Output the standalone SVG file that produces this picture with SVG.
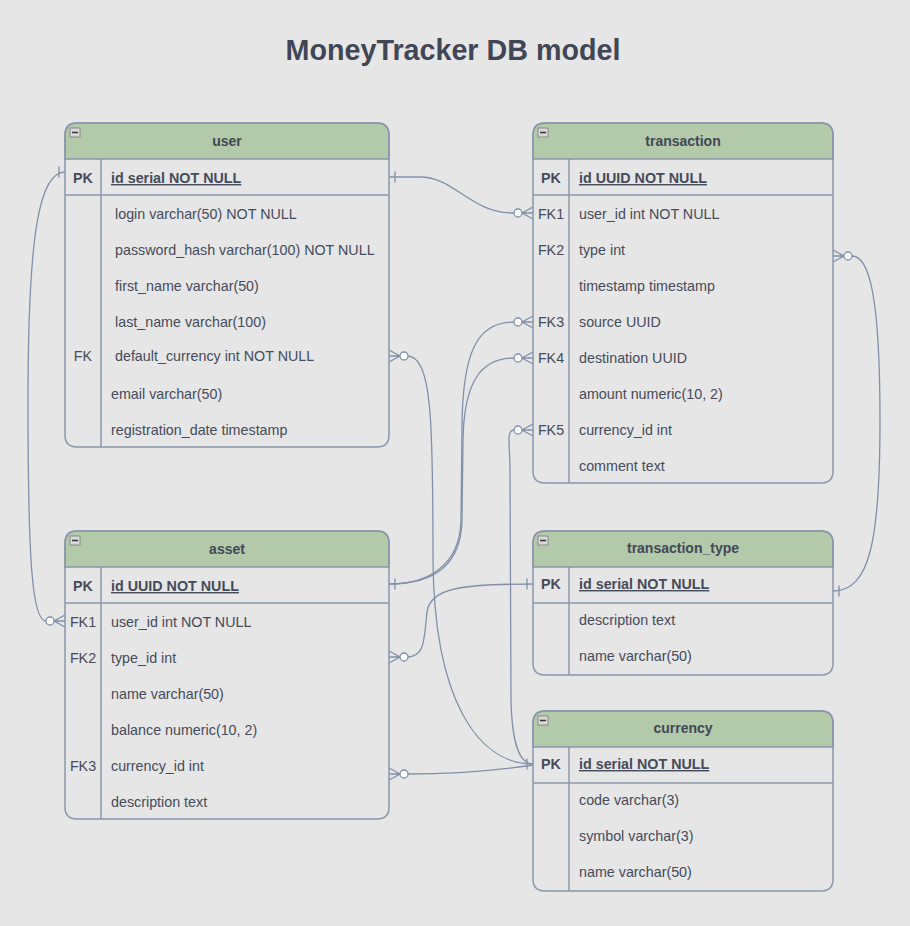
<svg xmlns="http://www.w3.org/2000/svg" width="910" height="926" viewBox="0 0 910 926">
<style>
.bg{fill:#e6e6e6}
.title{font-family:"Liberation Sans",Arial,sans-serif;font-size:28.7px;font-weight:bold;fill:#414656}
.tbl{fill:none;stroke:#8b97ab;stroke-width:1.5}
.hdr{fill:#b2c9aa;stroke:#8b97ab;stroke-width:1.5}
.ln{stroke:#8b97ab;stroke-width:1.5;fill:none}
.hname{font-family:"Liberation Sans",Arial,sans-serif;font-size:14px;font-weight:bold;fill:#424857;text-anchor:middle}
.key{font-family:"Liberation Sans",Arial,sans-serif;font-size:14.3px;fill:#454b5a;text-anchor:middle}
.pk{font-weight:bold}
.f{font-family:"Liberation Sans",Arial,sans-serif;font-size:14.3px;fill:#454b5a}
.fpk{font-weight:bold;text-decoration:underline}
.minus{fill:#d9d9d9;stroke:#8a8a8a;stroke-width:1}
.conn path,.conn line{fill:none;stroke:#8190a8;stroke-width:1.3}
.circ{fill:#ffffff;stroke:#8190a8;stroke-width:1.3}
</style>
<defs>
<g id="crow"><path d="M0,-6 L-11,0 L0,6 M0,0 L-11,0" fill="none" stroke="#8190a8" stroke-width="1.3"/><circle class="circ" cx="-15" cy="0" r="4"/></g>
<g id="bar"><line x1="-6" y1="-5.5" x2="-6" y2="5.5" stroke="#8190a8" stroke-width="1.3"/></g>
<g id="mbox"><rect class="minus" x="0" y="0" width="10" height="9"/><line x1="2" y1="4.5" x2="8" y2="4.5" stroke="#333" stroke-width="1.5"/></g>
</defs>
<rect class="bg" x="0" y="0" width="910" height="926"/>
<text class="title" x="453" y="60" text-anchor="middle">MoneyTracker DB model</text>

<g class="conn" id="connectors">
<path d="M389,177 L420,177 C455,177 470,213 514,213"/>
<path d="M407,356 C432,356 433,420 433,560 C434,700 478,764 533,764"/>
<path d="M514,430 C506,430 510,445 510,470 L511,700 C512,740 518,764 533,764"/>
<path d="M514,322 C478,322 462,350 462,430 L461,520 C460,568 425,584 389,584"/>
<path d="M514,358 C482,358 464,380 463,440 L462,520 C461,570 428,584 389,584"/>
<path d="M533,584 C462,584 430,588 427,612 C424,640 425,657 407,657"/>
<path d="M407,774 C460,774 500,770 533,765"/>
<path d="M65,172 C40,172 28,230 28,400 C28,560 32,621 46,621"/>
<path d="M852,256 C870,256 880,300 880,420 C880,540 870,591 833,591"/>
<use href="#crow" transform="translate(533,213)"/>
<use href="#crow" transform="translate(389,356) scale(-1,1)"/>
<use href="#crow" transform="translate(533,430)"/>
<use href="#crow" transform="translate(533,322)"/>
<use href="#crow" transform="translate(533,358)"/>
<use href="#crow" transform="translate(389,657) scale(-1,1)"/>
<use href="#crow" transform="translate(389,774) scale(-1,1)"/>
<use href="#crow" transform="translate(65,621)"/>
<use href="#crow" transform="translate(833,256) scale(-1,1)"/>
<use href="#bar" transform="translate(389,177) scale(-1,1)"/>
<use href="#bar" transform="translate(65,172)"/>
<use href="#bar" transform="translate(389,584) scale(-1,1)"/>
<use href="#bar" transform="translate(533,584)"/>
<use href="#bar" transform="translate(833,591) scale(-1,1)"/>
<use href="#bar" transform="translate(533,764)"/>
</g>

<g id="user">
<path class="hdr" d="M65,159 V135 Q65,123 77,123 H377 Q389,123 389,135 V159 Z"/>
<path class="tbl" d="M65,135 Q65,123 77,123 H377 Q389,123 389,135 V435 Q389,447 377,447 H77 Q65,447 65,435 Z"/>
<use href="#mbox" x="70" y="128"/>
<text class="hname" x="227" y="146">user</text>
<line class="ln" x1="65" y1="195" x2="389" y2="195"/>
<line class="ln" x1="101" y1="159" x2="101" y2="447"/>
<text class="key pk" x="83" y="183">PK</text>
<text class="f fpk" x="111" y="183">id serial NOT NULL</text>
<text class="f" x="115" y="219">login varchar(50) NOT NULL</text>
<text class="f" x="115" y="255">password_hash varchar(100) NOT NULL</text>
<text class="f" x="115" y="291">first_name varchar(50)</text>
<text class="f" x="115" y="327">last_name varchar(100)</text>
<text class="key" x="83" y="361">FK</text>
<text class="f" x="115" y="361">default_currency int NOT NULL</text>
<text class="f" x="111" y="399">email varchar(50)</text>
<text class="f" x="111" y="435">registration_date timestamp</text>
</g>

<g id="transaction">
<path class="hdr" d="M533,159 V135 Q533,123 545,123 H821 Q833,123 833,135 V159 Z"/>
<path class="tbl" d="M533,135 Q533,123 545,123 H821 Q833,123 833,135 V471 Q833,483 821,483 H545 Q533,483 533,471 Z"/>
<use href="#mbox" x="538" y="128"/>
<text class="hname" x="683" y="146">transaction</text>
<line class="ln" x1="533" y1="195" x2="833" y2="195"/>
<line class="ln" x1="569" y1="159" x2="569" y2="483"/>
<text class="key pk" x="551" y="183">PK</text>
<text class="f fpk" x="579" y="183">id UUID NOT NULL</text>
<text class="key" x="551" y="219">FK1</text>
<text class="f" x="579" y="219">user_id int NOT NULL</text>
<text class="key" x="551" y="255">FK2</text>
<text class="f" x="579" y="255">type int</text>
<text class="f" x="579" y="291">timestamp timestamp</text>
<text class="key" x="551" y="327">FK3</text>
<text class="f" x="579" y="327">source UUID</text>
<text class="key" x="551" y="363">FK4</text>
<text class="f" x="579" y="363">destination UUID</text>
<text class="f" x="579" y="399">amount numeric(10, 2)</text>
<text class="key" x="551" y="435">FK5</text>
<text class="f" x="579" y="435">currency_id int</text>
<text class="f" x="579" y="471">comment text</text>
</g>

<g id="asset">
<path class="hdr" d="M65,567 V543 Q65,531 77,531 H377 Q389,531 389,543 V567 Z"/>
<path class="tbl" d="M65,543 Q65,531 77,531 H377 Q389,531 389,543 V807 Q389,819 377,819 H77 Q65,819 65,807 Z"/>
<use href="#mbox" x="70" y="536"/>
<text class="hname" x="227" y="554">asset</text>
<line class="ln" x1="65" y1="603" x2="389" y2="603"/>
<line class="ln" x1="101" y1="567" x2="101" y2="819"/>
<text class="key pk" x="83" y="591">PK</text>
<text class="f fpk" x="111" y="591">id UUID NOT NULL</text>
<text class="key" x="83" y="627">FK1</text>
<text class="f" x="111" y="627">user_id int NOT NULL</text>
<text class="key" x="83" y="663">FK2</text>
<text class="f" x="111" y="663">type_id int</text>
<text class="f" x="111" y="699">name varchar(50)</text>
<text class="f" x="111" y="735">balance numeric(10, 2)</text>
<text class="key" x="83" y="771">FK3</text>
<text class="f" x="111" y="771">currency_id int</text>
<text class="f" x="111" y="807">description text</text>
</g>

<g id="transaction_type">
<path class="hdr" d="M533,567 V543 Q533,531 545,531 H821 Q833,531 833,543 V567 Z"/>
<path class="tbl" d="M533,543 Q533,531 545,531 H821 Q833,531 833,543 V663 Q833,675 821,675 H545 Q533,675 533,663 Z"/>
<use href="#mbox" x="538" y="536"/>
<text class="hname" x="683" y="553">transaction_type</text>
<line class="ln" x1="533" y1="603" x2="833" y2="603"/>
<line class="ln" x1="569" y1="567" x2="569" y2="675"/>
<text class="key pk" x="551" y="589">PK</text>
<text class="f fpk" x="579" y="589">id serial NOT NULL</text>
<text class="f" x="579" y="625">description text</text>
<text class="f" x="579" y="661">name varchar(50)</text>
</g>

<g id="currency">
<path class="hdr" d="M533,747 V723 Q533,711 545,711 H821 Q833,711 833,723 V747 Z"/>
<path class="tbl" d="M533,723 Q533,711 545,711 H821 Q833,711 833,723 V879 Q833,891 821,891 H545 Q533,891 533,879 Z"/>
<use href="#mbox" x="538" y="716"/>
<text class="hname" x="683" y="733">currency</text>
<line class="ln" x1="533" y1="783" x2="833" y2="783"/>
<line class="ln" x1="569" y1="747" x2="569" y2="891"/>
<text class="key pk" x="551" y="769">PK</text>
<text class="f fpk" x="579" y="769">id serial NOT NULL</text>
<text class="f" x="579" y="805">code varchar(3)</text>
<text class="f" x="579" y="841">symbol varchar(3)</text>
<text class="f" x="579" y="877">name varchar(50)</text>
</g>
</svg>
